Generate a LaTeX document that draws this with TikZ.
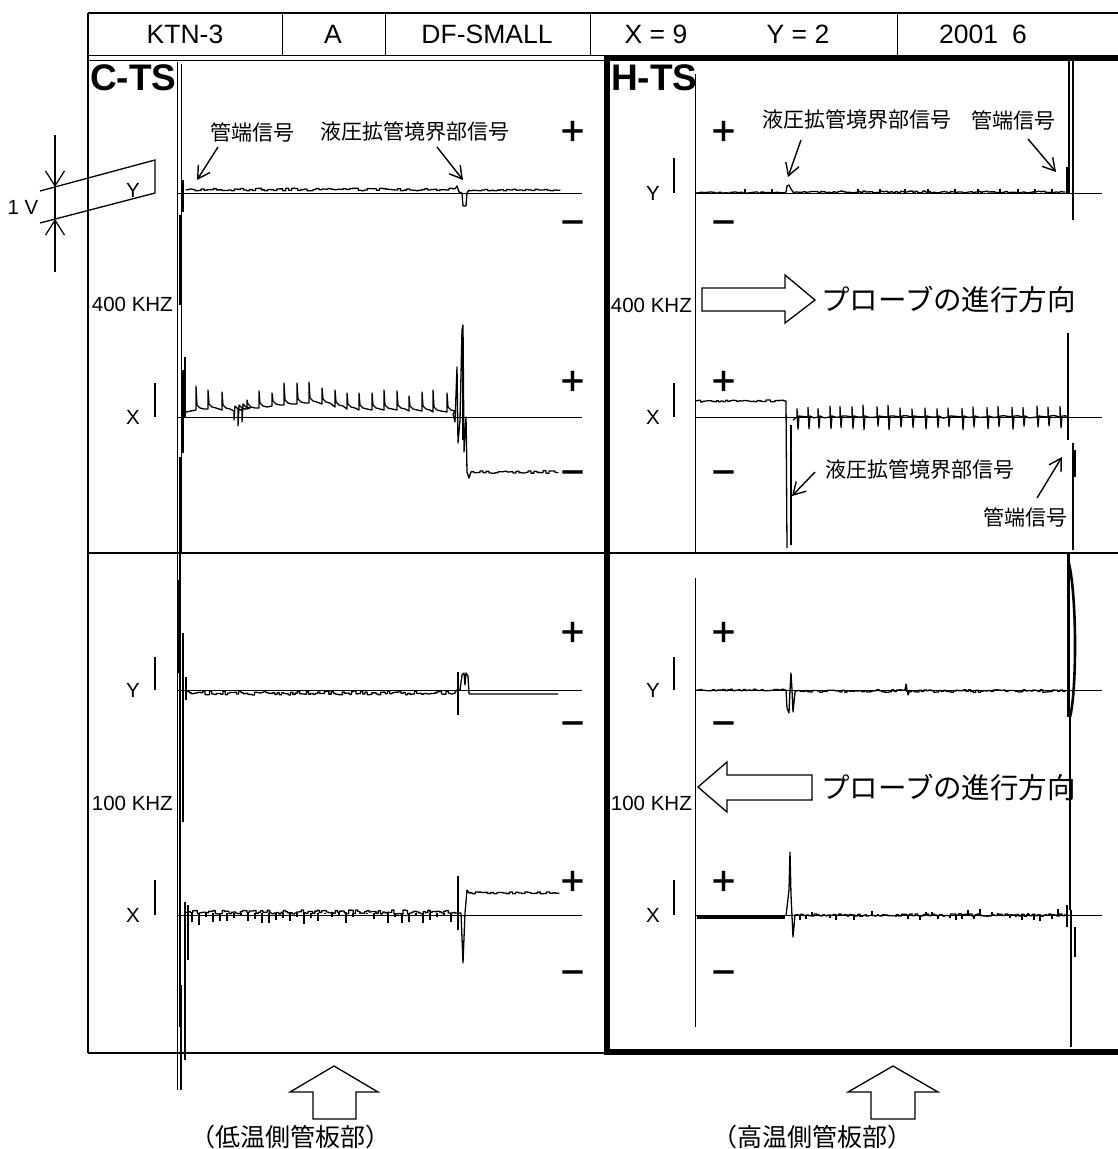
\documentclass[tikz,border=0pt]{standalone}
\usepackage{fontspec}
\setmainfont{Liberation Sans}
\newfontfamily\jp{Noto Sans CJK JP}
\usetikzlibrary{arrows.meta}
\begin{document}
\begin{tikzpicture}[x=1pt,y=-1pt,
  frame/.style={line width=1.6pt},
  thinl/.style={line width=1pt},
  tr/.style={line width=1.3pt, line join=round},
  trk/.style={line width=2.8pt},
  tick/.style={line width=1.4pt},
  lbl/.style={font=\fontsize{20.5}{20.5}\selectfont, inner sep=0pt},
  hdr/.style={font=\fontsize{26.5}{26.5}\selectfont, inner sep=0pt},
  ttl/.style={font=\bfseries\fontsize{37}{37}\selectfont, inner sep=0pt, anchor=west},
  jpl/.style={font=\jp\fontsize{21}{21}\selectfont, inner sep=0pt},
  jpb/.style={font=\jp\fontsize{28.5}{28.5}\selectfont, inner sep=0pt, anchor=west},
  jpc/.style={font=\jp\fontsize{25}{25}\selectfont, inner sep=0pt},
  pm/.style={font=\jp\bfseries\fontsize{29}{29}\selectfont, inner sep=0pt},
  ptr/.style={line width=1.4pt, -{Straight Barb[length=12pt,width=14pt,line width=1.4pt]}},
  dimar/.style={line width=1.2pt, -{Straight Barb[length=15pt,width=19pt,line width=1.2pt]}},
  hollow/.style={line width=1.3pt, fill=white, line join=miter},
]
\useasboundingbox (0,0) rectangle (1118,1149);
\pgfmathsetseed{7}

% ---------- header ----------
\draw[frame] (88,13) -- (1118,13);
\draw[frame] (88,13) -- (88,1053);
\draw[thinl] (88,55) -- (1118,55);
\draw[thinl] (88,60) -- (605,60);
\foreach \xx in {282,385,590,897} \draw[thinl] (\xx,13) -- (\xx,55);
\node[hdr] (h1) at (185,34) {KTN-3};
\node[hdr] (h2) at (333,34) {A};
\node[hdr] (h3) at (487,34) {DF-SMALL};
\node[hdr] (h4) at (656,34) {X = 9};
\node[hdr] (h5) at (798,34) {Y = 2};
\node[hdr] (h6) at (983,34) {2001\hspace{14pt}6};

% ---------- frames ----------
\draw[frame] (88,553) -- (1118,553);
\draw[line width=2.5pt] (88,1053) -- (607,1053);
\draw[line width=6.5pt] (1125,58) -- (607,58) -- (607,1052) -- (1125,1052);

\node[ttl] (cts) at (90,78) {C-TS};
\node[ttl] (hts) at (611,78) {H-TS};

% ---------- axes ----------
\draw[thinl] (177,62) -- (177,1090);
\draw[thinl] (181,64) -- (181,553);
\draw[thinl] (695,74) -- (695,553);
\draw[thinl] (695,578) -- (695,1027);

% ---------- channel labels ----------
\node[lbl,anchor=east] (f1) at (173,304) {400 KHZ};
\node[lbl,anchor=east] (f2) at (173,803) {100 KHZ};
\node[lbl,anchor=east] (f3) at (692,305) {400 KHZ};
\node[lbl,anchor=east] (f4) at (692,803) {100 KHZ};

\foreach \lx in {133,653}{
  \node[lbl] at (\lx,417) {X};
  \node[lbl] at (\lx,690) {Y};
  \node[lbl] at (\lx,915) {X};
}
\node[lbl] (yc) at (133,190) {Y};
\node[lbl] (yh) at (653,193) {Y};
\draw[tick] (155,383) -- (155,417);
\draw[tick] (155,657) -- (155,690);
\draw[tick] (155,880) -- (155,915);
\draw[tick] (674,158) -- (674,193);
\draw[tick] (674,383) -- (674,417);
\draw[tick] (674,657) -- (674,690);
\draw[tick] (674,880) -- (674,915);

% ---------- 1 V scale ----------
\draw[line width=1.3pt] (40,191) -- (155,160) -- (155,193) -- (40,223);
\coordinate (va) at (55,135);
\coordinate (vb) at (55,187);
\coordinate (vc) at (55,219);
\coordinate (vd) at (55,272);
\draw[dimar] (va) -- (vb);
\draw[dimar] (vd) -- (vc);
\draw[line width=2pt] (vb) -- (vc);
\node[lbl] (onev) at (23,207) {1 V};

% ---------- plus / minus ----------
\foreach \px in {573,724}{
  \foreach \py/\my in {132/227, 382/477, 633/728, 882/977}{
    \node[pm] at (\px,\py) {＋};
    \node[pm] at (\px,\my) {－};
  }
}

% ---------- baselines ----------
\foreach \yy in {193,417,690,915}{
  \draw[thinl] (177,\yy) -- (582,\yy);
  \draw[thinl] (695,\yy) -- (1102,\yy);
}

% ================= C-TS traces =================
\draw[trk] (180,215) -- (180,305);
\draw[line width=2pt] (183,180) -- (183,212);
\draw[trk] (183,370) -- (183,453);
\draw[tr] (185,357) -- (185,417);
\draw[trk] (180,457) -- (180,553);
\draw[trk] (178,580) -- (178,673);
\draw[tr] (180,553) -- (180,1027);
\draw[tr] (183,633) -- (183,822);
\draw[trk] (183,750) -- (183,795);
\draw[line width=2pt] (186,677) -- (186,700);
\draw[trk] (181,985) -- (181,1090);
\draw[trk] (185,902) -- (185,1060);
\draw[tr] (188,905) -- (188,960);

% 400k Y
\draw[tr] (186,190) -- plot[const plot, domain=186:455, samples=90] (\x,{189.5+1.3*rand})
  -- (457,186) -- (459,192) -- (462,193) -- (463,206) -- (466,206) -- (467,193) -- (469,190)
  -- plot[const plot, domain=469:560, samples=30] (\x,{190+0.8*rand});

% 400k X
\draw[tr] (186,412)
  \foreach \sx/\sp/\sb in {196/386/410, 208/390/409, 222/392/410, 234/420/411, 238/426/410,
     242/422/409, 247/400/409, 259/391/408, 272/393/406, 284/383/405, 297/383/404, 309/382/403,
     322/388/404, 335/390/407, 347/393/409, 359/393/410, 372/393/410, 384/390/410, 397/391/410,
     409/396/411, 422/392/411, 433/390/412, 447/393/412}
  { -- (\sx,\sb) -- (\sx,\sp) -- ({\sx+1},{\sb-5}) -- ({\sx+4},{\sb-2}) -- ({\sx+8},{\sb-1}) }
  -- (453,414) -- (455,422) -- (457,367) -- (458,443) -- (460,420) -- (462,330) -- (463,325)
  -- (464,452) -- (466,417) -- (467,472) -- (469,478) -- (471,472)
  -- plot[const plot, domain=471:558, samples=30] (\x,{472+1.2*rand});
\draw[trk] (463,345) -- (463,440);

% 100k Y
\draw[tr] (187,692) -- plot[const plot, domain=187:455, samples=120] (\x,{693+2*rand})
  -- (457,690) -- (460,690) -- (462,675) -- (464,673) -- (465,685) -- (466,673) -- (468,676)
  -- (469,694) -- (558,694);
\draw[line width=2.2pt] (458,672) -- (458,715);

% 100k X
\draw[tr] (186,913) -- plot[const plot, domain=186:455, samples=120] (\x,{912+2*rand})
  -- (456,913) -- (461,913) -- (463,963) -- (465,913) -- (467,890) -- (469,893)
  -- plot[const plot, domain=469:559, samples=30] (\x,{893+1*rand});
\foreach \tx in {192,199,...,452} \draw[tr] (\tx,913) -- (\tx,{919+6*rand});
\draw[line width=2.2pt] (458,876) -- (458,930);

% ================= H-TS traces =================
\draw[tr] (1069,60) -- (1069,193);
\draw[tr] (1073,60) -- (1073,220);
\draw[trk] (1067,167) -- (1067,193);
\draw[tr] (1068,333) -- (1068,363);
\draw[trk] (1068,363) -- (1068,440);
\draw[tr] (1073,443) -- (1073,550);
\draw[trk] (1075,450) -- (1075,477);
\draw[line width=3pt] (1068,553) -- (1068,717);
\draw[line width=2.6pt] (1068,560) .. controls (1077,590) and (1077,690) .. (1070,717);
\draw[line width=2.6pt] (1070,717) -- (1070,910);
\draw[tr] (1071,910) -- (1071,1047);
\draw[line width=2pt] (1075,927) -- (1075,957);

% 400k Y
\draw[tr] (697,192) -- plot[const plot, domain=697:785, samples=30] (\x,{192.5+0.6*rand})
  -- (786,192) -- (787,186) -- (789,185) -- (791,189) -- (793,192)
  -- plot[const plot, domain=793:1065, samples=110] (\x,{192+0.9*rand});
\foreach \tx in {745,772,858,880,905,928,955,978,1000,1018,1035,1052}
  \draw[tr] (\tx,193) -- (\tx,189);

% 400k X
\draw[tr] (696,401) -- plot[const plot, domain=696:784, samples=40] (\x,{401+1*rand})
  -- (786,401) -- (787,548);
\draw[trk] (791,425) -- (791,545);
\draw[tr] (793,420)
  \foreach \sx in {797,808,818,830,840,852,863,877,888,900,912,925,937,948,962,973,987,998,1012,1023,1037,1048,1060}
  { -- (\sx,417) -- (\sx,{407-2*rand}) -- ({\sx+1},{428+2*rand}) -- ({\sx+2},416) -- ({\sx+6},{417+1.5*rand}) }
  -- (1066,417);

% 100k Y
\draw[tr] (697,690) -- plot[const plot, domain=697:784, samples=35] (\x,{690+0.8*rand})
  -- (786,690) -- (787,708) -- (789,713) -- (790,690) -- (791,673) -- (792,690) -- (793,712) -- (795,692)
  -- plot[const plot, domain=795:1065, samples=110] (\x,{691+1.3*rand});
\draw[tr] (905,690) -- (906,684) -- (908,695) -- (910,690);

% 100k X
\draw[tr] (697,916) -- (785,916);
\draw[tr] (697,918) -- (785,918);
\draw[tr] (786,916) -- (789,890) -- (790,852) -- (791,895) -- (793,937) -- (795,915)
  -- plot[const plot, domain=795:1065, samples=100] (\x,{915+1.2*rand});
\foreach \tx in {800,806,...,1062} \draw[tr] (\tx,915) -- (\tx,{915+6*rand});
\draw[line width=2.4pt] (1067,905) -- (1067,927);

% ---------- annotations ----------
\node[jpl] (c1) at (252,132) {管端信号};
\node[jpl] (c2) at (415,132) {液圧拡管境界部信号};
\coordinate (c1a) at (218,147); \coordinate (c1b) at (197,180);
\coordinate (c2a) at (437,147); \coordinate (c2b) at (463,180);
\draw[ptr] (c1a) -- (c1b);
\draw[ptr] (c2a) -- (c2b);

\node[jpl] (t1) at (857,120) {液圧拡管境界部信号};
\node[jpl] (t2) at (1013,120) {管端信号};
\coordinate (t1a) at (801,140); \coordinate (t1b) at (788,177);
\coordinate (t2a) at (1028,139); \coordinate (t2b) at (1056,172);
\draw[ptr] (t1a) -- (t1b);
\draw[ptr] (t2a) -- (t2b);

\node[jpl] (u1) at (920,470) {液圧拡管境界部信号};
\node[jpl] (u2) at (1025,517) {管端信号};
\coordinate (u1a) at (815,472); \coordinate (u1b) at (792,496);
\coordinate (u2a) at (1037,498); \coordinate (u2b) at (1062,457);
\draw[ptr] (u1a) -- (u1b);
\draw[ptr] (u2a) -- (u2b);

% big hollow arrows
\draw[hollow] (702,288) -- (785,288) -- (785,275) -- (815,300) -- (785,323) -- (785,311) -- (702,311) -- cycle;
\node[jpb] (p1) at (821,299) {プローブの進行方向};
\draw[hollow] (698,787) -- (727,762) -- (727,775) -- (812,775) -- (812,800) -- (727,800) -- (727,812) -- cycle;
\node[jpb] (p2) at (821,787) {プローブの進行方向};

% bottom arrows
\draw[hollow] (334,1066) -- (378,1092) -- (356,1092) -- (356,1119) -- (313,1119) -- (313,1092) -- (290,1092) -- cycle;
\draw[hollow] (893,1066) -- (938,1092) -- (915,1092) -- (915,1119) -- (871,1119) -- (871,1092) -- (848,1092) -- cycle;
\node[jpc] (b1) at (290,1137) {（低温側管板部）};
\node[jpc] (b2) at (812,1137) {（高温側管板部）};

\end{tikzpicture}
\end{document}
